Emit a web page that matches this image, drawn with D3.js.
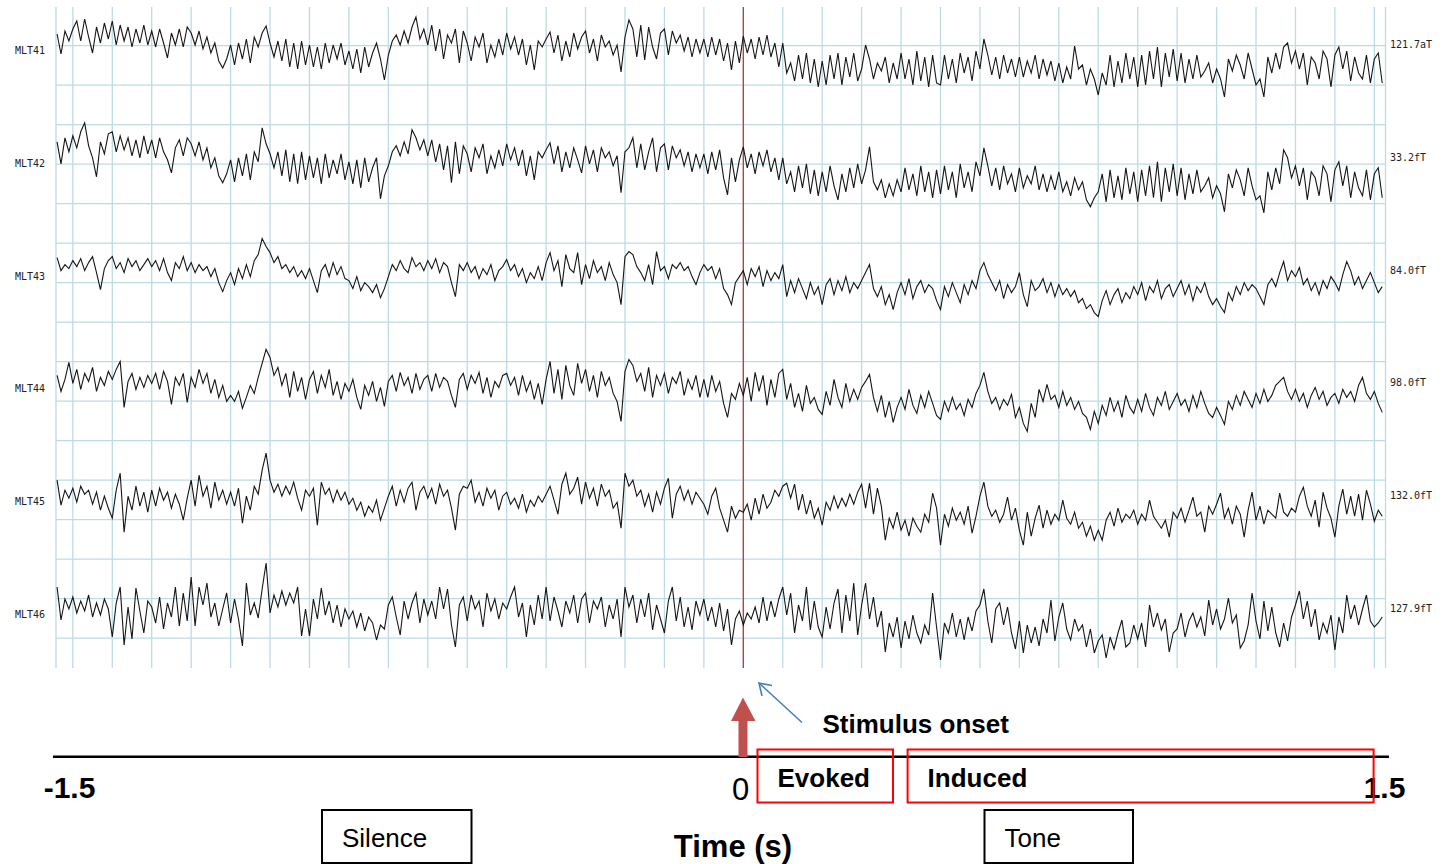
<!DOCTYPE html>
<html>
<head>
<meta charset="utf-8">
<script src="https://cdn.jsdelivr.net/npm/d3@7"></script>
<style>
  body { margin: 0; background: #fff; }
  svg { display: block; }
</style>
</head>
<body>
<div id="chart"></div>
<script>
// channel names and the scale text at the right of each trace
var channels = ["MLT41", "MLT42", "MLT43", "MLT44", "MLT45", "MLT46"];
var scaleLabels = ["121.7aT", "33.2fT", "84.0fT", "98.0fT", "132.0fT", "127.9fT"];

// samples every 10 ms, first sample at -1.74 s
var tStart = -1.74, dt = 0.01;

var mlt41 = [15,-5,18,8,
  20,28,8,30,12,-4,22,6,26,10, 28,4,24,8,22,2,20,6,24,4, 18,2,20,6,-9,16,4,20,2,22,
  16,4,18,0,12,-4,6,-12,-19,-10, 4,-16,6,-10,10,-14,12,2,16,23, 6,-8,8,-12,10,-18,6,-20,8,-16,
  4,-18,2,-20,6,-14,4,-10,6,-16, -2,-20,0,-24,2,-18,-4,6,-10,-31, -6,8,14,4,18,6,22,32,10,20,
  4,24,-2,20,-10,14,6,20,-14,18, 6,-12,12,2,16,-14,4,-8,10,-6, 16,0,12,-6,10,-16,4,-21,8,2,
  10,17,-4,14,-12,8,-8,16,0,12, 18,-4,10,-12,14,2,8,-6,4,-23, 12,29,20,-8,24,-11,22,2,-10,16,
  20,-6,18,6,14,-2,12,-8,10,-4, 10,-8,12,-6,10,-12,6,-21,8,-14, 13,-4,10,-10,12,-6,14,-8,6,-18,
  6,-24,-14,-32,-6,-30,-4,-34,-10,-38, -12,-36,-6,-30,-4,-36,-8,-28,-4,-32, -20,4,-10,-30,-14,-22,-8,-34,-14,-30,
  -4,-30,-10,-36,-2,-32,-8,-38,-6,-34, -36,-6,-30,-10,-34,-4,-24,-8,-32,-2, -20,10,-6,-26,-8,-30,-6,-24,-10,-28,
  -8,-28,-12,-24,-6,-30,-10,-26,-12,-32, -14,-34,-18,-30,3,-20,-16,-36,-20,-30, -46,-24,-36,-6,-38,-12,-34,-4,-30,-8,
  -38,-6,-36,-2,-30,2,-38,-4,-28,0, -32,-4,-34,-10,-30,-6,-28,-22,-14,-34, -20,-30,-48,-10,-22,-6,-16,-30,-4,-20,
  -36,-30,-48,-8,-24,-4,-20,2,6,-14, -2,-20,-4,-36,-8,-14,-30,-2,-10,-38, -6,2,-20,-2,-32,-8,-24,-30,-6,-34,
  -10,-4,-34];

var mlt42 = [20,-2,24,10,
  26,14,30,39,16,4,-15,20,8,28, 30,10,26,12,24,6,22,4,26,8, 22,4,24,10,2,-11,14,22,6,24,
  18,6,20,2,14,-6,4,-14,-21,-12, 2,-20,4,-14,8,-18,10,0,34,18, 8,-6,10,-14,12,-20,8,-22,10,-18,
  6,-16,4,-22,8,-16,2,-12,8,-18, 0,-22,2,-26,4,-20,-6,4,-37,-14, -4,10,16,6,20,8,32,24,12,22,
  6,22,0,18,-8,16,-21,20,-12,16, 8,-10,14,4,18,-12,6,-6,12,-4, 18,2,14,-4,12,-14,6,-18,10,4,
  12,19,-2,16,-10,10,-6,14,2,-11, 16,-2,12,-10,14,4,10,-4,6,-31, 10,14,24,-6,18,-8,10,24,-10,14,
  18,-8,16,4,12,-4,10,-10,8,-6, 8,-12,10,-8,12,-16,-33,4,-20,2, 15,-6,8,-12,10,-4,12,-10,4,-18,
  4,-22,-10,-30,-4,-26,-2,-32,-8,-34, -10,-30,-4,-24,-38,-12,-30,-6,-26,-2, -22,-8,15,-20,-28,-18,-36,-22,-34,-18,
  -30,-6,-28,-12,-34,-4,-30,-10,-36,-8, -32,-4,-28,-10,-36,-2,-26,-10,-30,0, -14,14,-4,-24,-6,-28,-4,-22,-12,-30,
  -6,-26,-14,-22,-4,-28,-12,-30,-14,-28, -10,-30,-20,-34,-16,-28,-20,-38,-45,-36, -30,-12,-40,-8,-36,-14,-38,-6,-32,-10,
  -40,-8,-34,-4,-36,0,-40,-6,-30,-2, -34,-6,-38,-12,-32,-8,-30,-24,-16,-36, -24,-32,-50,-12,-26,-8,-18,-34,-6,-24,
  -38,-34,-51,-10,-28,-6,-22,12,4,-16, -4,-24,-6,-38,-10,-16,-34,-4,-12,-40, -8,0,-24,-4,-36,-10,-26,-34,-8,-38,
  -12,-6,-36];

var mlt43 = [17,4,10,6,
  14,8,16,4,12,18,2,-15,6,14, 18,6,12,2,16,8,14,4,10,16, 8,14,4,16,2,-6,12,6,18,4,
  12,2,10,4,8,-2,6,-8,-17,-6, 2,-10,6,-4,10,-2,14,20,36,28, 22,12,18,6,10,2,8,-2,4,-4,
  6,-6,-18,4,10,-2,12,0,8,-4, -6,-14,-2,-16,-8,-12,-18,-10,-23,-14, -2,10,4,14,6,2,17,8,12,4,
  14,6,16,2,12,8,-8,-22,10,4, 12,2,8,-4,6,0,10,-6,4,8, 15,4,10,-2,6,-8,2,-4,8,-6,
  12,22,4,14,-12,20,6,2,22,-10, 10,-4,14,2,8,-6,12,0,-8,-30, 18,23,20,8,2,-6,10,-10,23,4,
  8,-4,10,6,12,4,8,-2,-10,2, 10,4,8,-4,6,-14,-20,-30,-8,-2, 4,-10,6,-2,8,-12,4,-6,2,-4,
  10,-22,-6,-18,-4,-14,-24,-8,-20,-12, -30,-10,-4,-20,-6,-16,-2,-18,-8,-14, -6,2,10,-14,-22,-12,-30,-20,-35,-18,
  -8,-20,-4,-24,-12,-6,-18,-10,-14,-26, -35,-12,-22,-8,-18,-28,-10,-20,-6,-14, 4,12,0,-8,-16,-6,-24,-10,-18,-12,
  2,-20,-32,-6,-16,-12,-4,-18,-8,-22, -10,-20,-14,-22,-16,-28,-24,-34,-30,-38, -42,-26,-16,-30,-20,-14,-28,-18,-24,-12,
  -20,-8,-26,-12,-18,-6,-24,-14,-10,-22, -14,-6,-20,-10,-26,-12,-18,-8,-22,-30, -24,-32,-38,-18,-26,-12,-20,-8,-16,-10,
  -14,-22,-30,-10,-4,-12,2,13,-6,4, -2,7,-10,-4,-16,-8,-20,-6,-14,-2, -8,-16,0,13,4,-10,-2,-14,-6,2,
  -8,-18,-12];

var mlt44 = [12,-4,8,25,
  4,18,-2,14,6,20,-4,10,2,16, 8,18,26,-20,6,14,-2,10,0,12, 4,14,-2,16,6,-17,10,2,14,-15,
  10,0,18,4,14,-6,8,-10,2,-14, -8,-14,-4,-21,-10,2,-6,10,24,38, 30,12,20,2,14,-10,16,-4,10,-12,
  8,16,-6,12,0,18,-8,6,-12,4, -4,8,-10,-22,2,-8,6,-14,0,-19, 6,12,-4,15,2,10,-6,14,-2,8,
  12,-4,14,0,10,6,-8,-20,8,14, -2,12,4,15,-6,10,-10,6,0,12, 14,2,10,-8,12,-4,6,-12,4,-17,
  8,26,-6,18,-12,22,2,-8,24,4, 18,-4,12,-10,16,2,10,-6,-14,-34, 16,28,22,6,14,-4,20,-10,12,2,
  14,-6,10,4,16,-8,8,-2,12,-10, 8,-10,12,-4,6,-16,-30,-6,-12,4, -8,10,-14,15,-4,12,-18,8,-10,14,
  18,-12,4,-20,-6,-24,2,-16,-10,-22, -27,-4,-18,8,-10,-20,4,-14,-2,-12, 0,6,13,-10,-24,-8,-30,-14,-35,-20,
  -10,-22,-2,-18,-26,-8,-20,-4,-16,-28, -32,-14,-24,-10,-22,-16,-28,-12,-20,-6, 2,15,-4,-16,-10,-22,-12,-18,-7,-30,
  -20,-36,-44,-16,-30,-2,-14,3,-12,-8, -20,-4,-18,-10,-22,-14,-26,-30,-42,-24, -36,-18,-28,-10,-24,-14,-30,-8,-20,-26,
  -12,-24,-6,-20,-28,-10,-18,-4,-22,-14, -6,-18,-12,-24,-8,-20,-4,-16,-26,-30, -20,-28,-37,-14,-22,-8,-18,-4,-12,-20,
  -6,-16,-2,-14,-8,2,6,10,-4,-12, -2,-14,-6,-20,-8,0,-12,-4,-18,-10, -6,-16,-2,-10,-4,-14,2,10,-6,-12,
  -4,-16,-25];

var mlt45 = [20,-5,10,2,
  12,-2,14,6,10,-4,8,-10,4,-8, -18,10,27,-32,4,-10,14,-6,8,-12, 10,-6,12,0,8,-8,6,-4,-20,2,
  20,-6,25,4,14,-8,18,0,10,-4, 8,-6,12,-23,4,-10,14,6,30,47, 20,8,16,4,14,6,18,2,-10,10,
  4,12,-25,18,6,12,-2,10,0,8, -4,2,-10,-2,-16,-6,-12,0,-20,-8, 4,14,-6,10,-2,12,18,-10,8,14,
  2,12,-4,16,4,10,-8,-30,6,14, 12,20,-2,8,-6,12,2,10,-10,4, 8,-4,2,-8,6,-12,0,-6,4,-2,
  6,14,0,-14,16,27,6,12,23,-4, 18,2,12,-6,16,4,10,-8,-2,-28, 27,14,20,4,10,-6,6,-12,8,-4,
  12,22,-18,6,14,0,10,-4,8,2, -4,-14,4,12,-8,-20,-32,-6,-18,-10, -12,-4,-20,2,-14,6,-8,-2,10,4,
  14,17,2,16,-10,6,-14,0,-18,-8, -25,-2,-10,4,-8,2,-6,6,-4,8, 16,-8,17,-14,12,-6,-40,-18,-28,-12,
  -30,-20,-36,-18,-26,-32,-14,-22,7,-8, -45,-14,-26,-8,-20,-12,-24,-6,-33,-16, 4,18,-6,-16,-10,-22,-14,3,-20,-8,
  -30,-45,-12,-36,-18,-5,-28,-10,-24,-14, -20,0,-18,-24,-12,-28,-22,-36,-26,-40, -30,-40,-20,-12,-26,-8,-22,-14,-18,-10,
  -24,-14,-20,0,-16,-22,-28,-20,-37,-12, -18,-8,-22,-10,3,-16,-12,-32,-6,-14, -4,7,-18,-8,-24,-6,-14,-37,-10,8,
  -20,-6,-24,-10,-14,-18,7,-12,-16,-8, -12,4,13,-6,-16,0,-27,8,-8,-18, -37,-6,11,-14,4,-16,6,-20,10,-4,
  -21,-10,-16];

var mlt46 = [26,-7,14,4,
  16,0,12,2,18,-4,10,-2,14,4, -24,10,26,-32,6,-26,25,2,-20,12, 6,-10,16,-16,10,-4,26,-13,20,-8,
  36,-13,26,8,30,-4,10,-13,4,20, -10,14,-6,-33,30,-2,10,-5,24,50, 0,18,6,22,8,20,10,26,-23,4,
  -23,14,-6,25,-2,12,-10,8,-14,4, -6,2,-14,0,-18,-4,-10,-27,-12,-16, 8,16,-4,-22,12,-6,10,20,-10,14,
  -2,12,-6,26,4,24,-12,-34,8,16, -8,18,4,12,-14,20,2,14,-6,10, 4,16,26,-4,10,-24,8,-12,18,-6,
  26,-8,16,2,-14,12,0,18,-10,14, 20,-10,12,4,16,-14,8,-6,14,-24, 26,6,18,-10,14,-4,20,-17,8,-6,
  -20,12,26,-8,16,-14,6,-17,12,-2, 14,-8,6,-14,10,-18,4,-32,-6,2, -12,0,-6,6,-10,16,-8,12,-4,14,
  26,-2,20,-20,8,-8,26,-17,12,-14, -24,6,-16,10,24,-20,18,-8,30,-22, 8,30,-6,16,-14,2,-39,-10,-24,-4,
  -35,-8,-26,-2,-20,-30,-12,-22,20,-14, -47,-10,-20,0,-24,-6,-27,-4,-18,2, 8,24,-8,-30,4,10,-12,6,-20,-36,
  -8,-40,-12,-30,-14,-33,-6,-20,13,-28, -4,10,-16,-27,-6,-18,-12,-34,-16,-40, -28,-22,-45,-24,-36,-20,-7,-34,-30,-12,
  -26,-10,-34,8,-14,0,-17,-6,-39,-20, -16,0,-24,-8,0,-14,-4,-23,13,-12, 4,-16,-6,15,-10,-2,-35,-28,-12,20,
  -8,-26,12,-18,6,-20,-34,-10,-28,-4, 8,22,-6,12,-14,4,-27,-10,-20,-2, -37,-4,-20,18,-6,8,-12,4,18,-8,
  -14,-10,-4];

var traces = [mlt41, mlt42, mlt43, mlt44, mlt45, mlt46];

// labels of the hand-drawn time axis below the traces
var timeTicks = [-1.5, 0, 1.5];

var width = 1445, height = 864;
var svg = d3.select("#chart").append("svg")
    .attr("width", width)
    .attr("height", height)
    .style("background-color", "white");

var plotTop = 7, plotBottom = 668;
var x = d3.scaleLinear().domain([-1.7427, 1.6283]).range([56, 1385.5]);

// grid
var grid = svg.append("g").attr("stroke", "#bddbe3").attr("stroke-width", 1.3);
var vLines = d3.range(-17, 17).map(function(k) { return k / 10; });
grid.selectAll("line.v")
    .data(vLines.concat(x.domain()))
    .enter().append("line")
    .attr("x1", function(d) { return x(d); })
    .attr("x2", function(d) { return x(d); })
    .attr("y1", plotTop)
    .attr("y2", plotBottom);
grid.selectAll("line.h")
    .data(d3.range(16))
    .enter().append("line")
    .attr("x1", x.range()[0])
    .attr("x2", x.range()[1])
    .attr("y1", function(k) { return 45.7 + k * 39.5; })
    .attr("y2", function(k) { return 45.7 + k * 39.5; });

// stimulus onset marker
svg.append("line")
    .attr("x1", x(0)).attr("x2", x(0))
    .attr("y1", plotTop).attr("y2", plotBottom)
    .attr("stroke", "#c8282a")
    .attr("stroke-width", 1.2);

// traces
channels.forEach(function(name, k) {
  var center = 49 + k * 112.8;
  var y = d3.scaleLinear().domain([-50, 50]).range([center + 50, center - 50]);
  var line = d3.line()
      .x(function(d, i) { return x(tStart + i * dt); })
      .y(function(d) { return y(d); });

  svg.append("path")
      .datum(traces[k])
      .attr("fill", "none")
      .attr("stroke", "#151515")
      .attr("stroke-width", 1.1)
      .attr("stroke-linejoin", "miter")
      .attr("d", line);

  svg.append("text")
      .attr("x", 15)
      .attr("y", center + 5)
      .attr("font-family", "DejaVu Sans Mono, monospace")
      .attr("font-size", "10px")
      .attr("fill", "#222")
      .text(name);

  svg.append("text")
      .attr("x", 1390)
      .attr("y", center - 1)
      .attr("font-family", "DejaVu Sans Mono, monospace")
      .attr("font-size", "10px")
      .attr("fill", "#222")
      .text(scaleLabels[k]);
});

// annotation below the traces
var font = "Liberation Sans, Arial, sans-serif";
var tx = d3.scaleLinear().domain([-1.5, 0, 1.5]).range([69.5, 740.5, 1384.5]);

svg.append("line")
    .attr("x1", 53).attr("x2", 1389)
    .attr("y1", 756.7).attr("y2", 756.7)
    .attr("stroke", "black")
    .attr("stroke-width", 2.6);

svg.selectAll("text.tick")
    .data(timeTicks)
    .enter().append("text")
    .attr("class", "tick")
    .attr("x", function(d) { return tx(d); })
    .attr("y", function(d) { return d === 0 ? 800 : 798; })
    .attr("text-anchor", "middle")
    .attr("font-family", font)
    .attr("font-size", function(d) { return d === 0 ? "31px" : "30px"; })
    .attr("font-weight", function(d) { return d === 0 ? "normal" : "bold"; })
    .text(function(d) { return d; });

// evoked / induced windows
var redBoxes = [
  {label: "Evoked", x0: 757.5, x1: 893},
  {label: "Induced", x0: 907.6, x1: 1373.6}
];
redBoxes.forEach(function(b) {
  svg.append("rect")
      .attr("x", b.x0).attr("y", 749.5)
      .attr("width", b.x1 - b.x0).attr("height", 53)
      .attr("fill", "none")
      .attr("stroke", "#ff0000")
      .attr("stroke-width", 2);
  svg.append("text")
      .attr("x", b.x0 + 20).attr("y", 787)
      .attr("font-family", font)
      .attr("font-size", "26px")
      .attr("font-weight", "bold")
      .text(b.label);
});

// silence / tone boxes
var blackBoxes = [
  {label: "Silence", x0: 322, x1: 471.5},
  {label: "Tone", x0: 984.5, x1: 1133}
];
blackBoxes.forEach(function(b) {
  svg.append("rect")
      .attr("x", b.x0).attr("y", 810)
      .attr("width", b.x1 - b.x0).attr("height", 53)
      .attr("fill", "none")
      .attr("stroke", "black")
      .attr("stroke-width", 2);
  svg.append("text")
      .attr("x", b.x0 + 20).attr("y", 847)
      .attr("font-family", font)
      .attr("font-size", "26px")
      .text(b.label);
});

svg.append("text")
    .attr("x", 733).attr("y", 857)
    .attr("text-anchor", "middle")
    .attr("font-family", font)
    .attr("font-size", "31px")
    .attr("font-weight", "bold")
    .text("Time (s)");

// red block arrow at t = 0
svg.append("path")
    .attr("d", "M738.5,757 L738.5,721 L731,721 L743,697.5 L755.5,721 L747.5,721 L747.5,757 Z")
    .attr("fill", "#c0504d");

// blue pointer to the onset line
svg.append("line")
    .attr("x1", 802).attr("y1", 722.5)
    .attr("x2", 759).attr("y2", 683)
    .attr("stroke", "#4a7ebb")
    .attr("stroke-width", 1.6);
svg.append("path")
    .attr("d", "M772,685.5 L759,683 L762,696")
    .attr("fill", "none")
    .attr("stroke", "#4a7ebb")
    .attr("stroke-width", 1.6);

svg.append("text")
    .attr("x", 822.5).attr("y", 733)
    .attr("font-family", font)
    .attr("font-size", "26px")
    .attr("font-weight", "bold")
    .text("Stimulus onset");
</script>
</body>
</html>
